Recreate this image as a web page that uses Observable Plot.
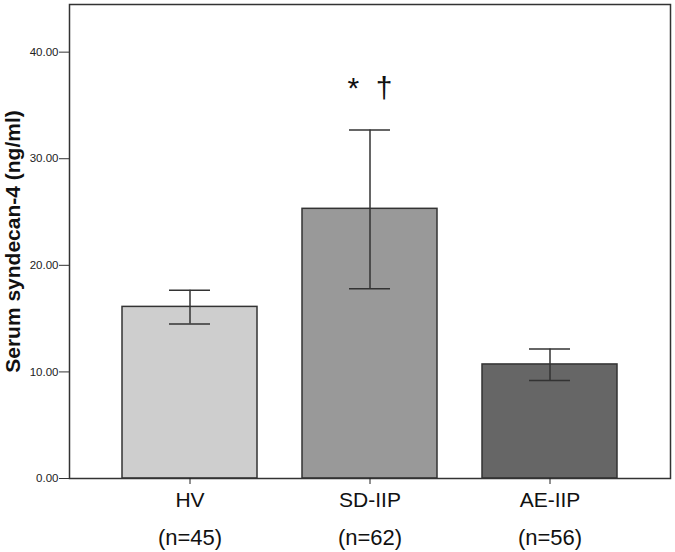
<!DOCTYPE html>
<html><head><meta charset="utf-8">
<script src="https://cdn.jsdelivr.net/npm/d3@7"></script>
<script src="https://cdn.jsdelivr.net/npm/@observablehq/plot@0.6"></script>
<style>
body{margin:0;background:#fff}
#chart svg{display:block}
</style>
</head><body><div id="chart"></div>
<script>
const groups = ["HV", "SD-IIP", "AE-IIP"];
const nLabels = ["(n=45)", "(n=62)", "(n=56)"];
const means = [16.1, 25.3, 10.7];
const lower = [14.5, 17.8, 9.2];
const upper = [17.65, 32.7, 12.15];
const yTicks = [0, 10, 20, 30, 40];
const markerText = ["*  \u2020"];
const markerGroup = "SD-IIP";
const markerValue = 36.6;
const yTitle = "Serum syndecan-4 (ng/ml)";

const data = groups.map((g, i) => ({group: g, n: nLabels[i], mean: means[i], lo: lower[i], hi: upper[i]}));

const chart = Plot.plot({
  width: 675, height: 552,
  marginLeft: 69, marginRight: 5, marginTop: 4, marginBottom: 74,
  style: {fontFamily: "Arial, 'Liberation Sans', sans-serif", background: "#fff", color: "#222"},
  x: {domain: groups, paddingInner: 0.25, paddingOuter: 0.294, label: null},
  y: {domain: [0, 44.47], label: null},
  color: {domain: groups, range: ["#cecece", "#999999", "#666666"]},
  marks: [
    Plot.barY(data, {x: "group", y: "mean", fill: "group", stroke: "#333", strokeWidth: 1.5}),
    Plot.ruleX(data, {x: "group", y1: "lo", y2: "hi", stroke: "#333", strokeWidth: 1.5}),
    Plot.tickY(data, {x: "group", y: "lo", insetLeft: 47, insetRight: 47, stroke: "#333", strokeWidth: 1.5}),
    Plot.tickY(data, {x: "group", y: "hi", insetLeft: 47, insetRight: 47, stroke: "#333", strokeWidth: 1.5}),
    Plot.text(markerText, {x: () => markerGroup, y: () => markerValue, text: d => d, fontSize: 30, fill: "#111"}),
    Plot.frame({stroke: "#333", strokeWidth: 1.5}),
    Plot.axisY({ticks: yTicks, tickFormat: d3.format(".2f"), tickSize: 10, tickPadding: 1, fontSize: 11.5, label: null, stroke: "#333"}),
    Plot.axisX({tickSize: 6, tickPadding: 8, fontSize: 21, label: null, fill: "#111"}),
    Plot.text(data, {x: "group", y: () => 0, text: "n", dy: 59, fontSize: 22, fill: "#111"}),
    Plot.text([yTitle], {frameAnchor: "left", textAnchor: "middle", text: d => d, rotate: -90, dx: -56, fontWeight: "bold", fontSize: 21, fill: "#111"})
  ]
});
document.getElementById("chart").appendChild(chart);
</script>
</body></html>
